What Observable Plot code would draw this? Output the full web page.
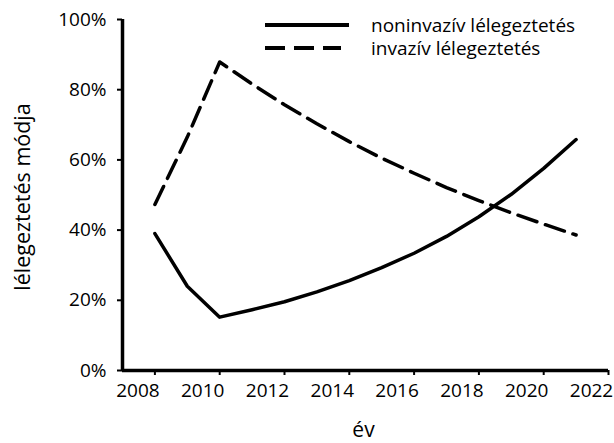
<!DOCTYPE html>
<html>
<head>
<meta charset="utf-8">
<script src="https://cdn.jsdelivr.net/npm/d3@7"></script>
<script src="https://cdn.jsdelivr.net/npm/@observablehq/plot@0.6"></script>
<style>
  html, body { margin: 0; padding: 0; background: #fff; }
  #wrap { position: relative; width: 614px; height: 443px; }
  #legend { position: absolute; left: 265px; top: 13px; font-family: "Open Sans", sans-serif; font-size: 19px; line-height: 22px; color: #000; }
  .item { display: flex; align-items: center; height: 23px; }
  .item svg { margin-right: 22px; flex: none; }
  .item span { display: block; height: 22px; line-height: 22px; }
</style>
</head>
<body>
<div id="wrap"><div id="legend"></div></div>
<script>
const years = [2008, 2009, 2010, 2011, 2012, 2013, 2014, 2015, 2016, 2017, 2018, 2019, 2020, 2021];
const noninvasive = [39, 24, 15.2, 17.3, 19.6, 22.4, 25.6, 29.3, 33.4, 38.2, 43.8, 50.2, 57.6, 65.8];
const invasive = [47.3, 66.5, 87.9, 81.6, 75.7, 70.3, 65.2, 60.5, 56.2, 52.1, 48.4, 44.9, 41.7, 38.6];
const seriesNames = ["noninvazív lélegeztetés", "invazív lélegeztetés"];
const xTicks = [2008, 2010, 2012, 2014, 2016, 2018, 2020, 2022];
const yTicks = [0, 20, 40, 60, 80, 100];
const xTitle = "év";
const yTitle = "lélegeztetés módja";

const rowsNon = years.map((y, i) => ({year: y, value: noninvasive[i]}));
const rowsInv = years.map((y, i) => ({year: y, value: invasive[i]}));
const dash = "20,9";

const chart = Plot.plot({
  width: 614,
  height: 443,
  marginLeft: 122,
  marginRight: 6,
  marginTop: 19,
  marginBottom: 73,
  style: {fontFamily: "Open Sans, sans-serif", fontSize: "19px", color: "#000", background: "#fff", overflow: "visible"},
  x: {domain: [2007, 2022]},
  y: {domain: [0, 100]},
  marks: [
    Plot.axisX({ticks: xTicks, text: null, tickSize: 5, strokeWidth: 2, label: null}),
    Plot.axisX({ticks: xTicks, tickSize: 0, tickPadding: 13, dx: -17, fontSize: 19, tickFormat: d => String(d), label: null}),
    Plot.axisY({ticks: yTicks, tickSize: 5, tickPadding: 11, strokeWidth: 2, fontSize: 19, tickFormat: d => d + "%", label: null}),
    Plot.text([xTitle], {frameAnchor: "bottom", textAnchor: "middle", lineAnchor: "middle", dy: 60, dx: -2, fontSize: 21}),
    Plot.text([yTitle], {frameAnchor: "left", textAnchor: "middle", lineAnchor: "middle", rotate: -90, dx: -99, dy: 2, fontSize: 21.5}),
    Plot.ruleY([0], {strokeWidth: 3.5}),
    Plot.ruleX([2007], {strokeWidth: 3.5}),
    Plot.line(rowsNon, {x: "year", y: "value", stroke: "#000", strokeWidth: 3.5}),
    Plot.line(rowsInv, {x: "year", y: "value", stroke: "#000", strokeWidth: 3.5, strokeDasharray: dash})
  ]
});
document.getElementById("wrap").prepend(chart);

const legend = document.getElementById("legend");
seriesNames.forEach((name, i) => {
  const div = document.createElement("div");
  div.className = "item";
  div.innerHTML = `<svg width="84" height="8"><line x1="0" x2="${i === 0 ? 84 : 76}" y1="4" y2="4" stroke="#000" stroke-width="4" ${i === 1 ? `stroke-dasharray="${dash}"` : ""}/></svg><span>${name}</span>`;
  legend.appendChild(div);
});
</script>
</body>
</html>
